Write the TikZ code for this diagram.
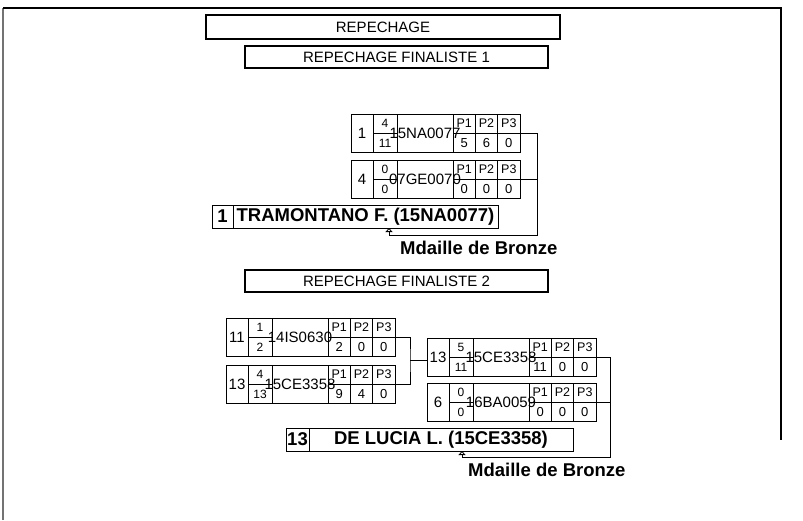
\documentclass[tikz,border=0pt]{standalone}
\usepackage{fontspec}
\setmainfont{Liberation Sans}
\usetikzlibrary{arrows.meta}

% one line of a match: seed, score, code, three periods
\newcommand{\entrybox}[8]{%
  \node [seedcell, anchor=north west] (#1s) at (#1) {#2};
  \node [scorecell, anchor=north west] (#1a) at (#1s.north east) {#3};
  \node [scorecell, anchor=north west] (#1b) at (#1a.south west) {#4};
  \node [namecell, anchor=north west] (#1n) at (#1a.north east) {};
  \node [codetext] (#1c) at (#1n.center) {#5};
  \node [pcell, anchor=north west] (#1t1) at (#1n.north east) {P1};
  \node [pcell, anchor=north west] (#1t2) at (#1t1.north east) {P2};
  \node [pcell, anchor=north west] (#1t3) at (#1t2.north east) {P3};
  \node [pcell, valfont, anchor=north west] (#1v1) at (#1t1.south west) {#6};
  \node [pcell, valfont, anchor=north west] (#1v2) at (#1t2.south west) {#7};
  \node [pcell, valfont, anchor=north west] (#1v3) at (#1t3.south west) {#8};
}

\begin{document}
\begin{tikzpicture}[x=1pt, y=-1pt]
\tikzstyle{cell} = [
  draw = black, line width=0.8pt,
  inner sep=0pt, outer sep=0pt
]
\tikzstyle{seedcell} = [cell, minimum width=22pt, minimum height=38.5pt,
  font=\fontsize{15}{15}\selectfont]
\tikzstyle{scorecell} = [cell, minimum width=24pt, minimum height=19.25pt,
  font=\fontsize{12}{12}\selectfont]
\tikzstyle{namecell} = [cell, minimum width=56pt, minimum height=38.5pt]
\tikzstyle{codetext} = [inner sep=0pt, font=\fontsize{15}{15}\selectfont]
\tikzstyle{pcell} = [cell, minimum width=22.33pt, minimum height=19.25pt,
  font=\fontsize{12.5}{12.5}\selectfont]
\tikzstyle{valfont} = [font=\fontsize{13}{13}\selectfont]
\tikzstyle{headbox} = [
  draw = black, line width=1.8pt, inner sep=0pt,
  font=\fontsize{15}{15}\selectfont
]
\tikzstyle{wincell} = [cell, minimum height=23pt,
  font=\bfseries\fontsize{18.5}{18.5}\selectfont]
\tikzstyle{bronze} = [inner sep=0pt, font=\bfseries\fontsize{18.5}{18.5}\selectfont]
\tikzstyle{tedge} = [
  draw = black, line width=0.8pt
]
\tikzstyle{medal} = [tedge, -{Triangle[open, length=4pt, width=7pt]}]

\useasboundingbox (0,0) rectangle (803,520);

% page frame
\draw [black!55, line width=2pt] (3,520) -- (3,8);
\draw [black, line width=1.6pt] (3,8) -- (781,8) -- (781,440);

\node [headbox, minimum width=354pt, minimum height=24pt] (h0) at (383,27) {REPECHAGE};
\node [headbox, minimum width=303pt, minimum height=22pt] (h1) at (396.5,57) {REPECHAGE FINALISTE 1};
\node [headbox, minimum width=303pt, minimum height=22pt] (h2) at (396.5,281) {REPECHAGE FINALISTE 2};

% finalist 1
\coordinate (m1) at (351,114);
\coordinate (m2) at (351,160);
\entrybox{m1}{1}{4}{11}{15NA0077}{5}{6}{0}
\entrybox{m2}{4}{0}{0}{07GE0070}{0}{0}{0}

\node [wincell, minimum width=21pt, anchor=north west] (w1s) at (212,205) {1};
\node [wincell, minimum width=265pt, anchor=north west] (w1n) at (w1s.north east) {TRAMONTANO F. (15NA0077)};
\coordinate (w1a) at ([xshift=23.5pt]w1n.south);
\coordinate (k1) at (537,235);
\node [bronze, anchor=west] (l1) at (400,248) {Mdaille de Bronze};

\draw [medal] (m1t3.south east) -| (k1) -| (w1a);
\draw [tedge] (m2t3.south east) -- (m2t3.south east -| k1);

% finalist 2
\coordinate (m3) at (226,318);
\coordinate (m4) at (226,365);
\coordinate (m5) at (427,338);
\coordinate (m6) at (427,383);
\entrybox{m3}{11}{1}{2}{14IS0630}{2}{0}{0}
\entrybox{m4}{13}{4}{13}{15CE3358}{9}{4}{0}
\entrybox{m5}{13}{5}{11}{15CE3358}{11}{0}{0}
\entrybox{m6}{6}{0}{0}{16BA0059}{0}{0}{0}

\node [wincell, minimum width=23pt, anchor=north west] (w2s) at (286,428) {13};
\node [wincell, minimum width=264pt, anchor=north west] (w2n) at (w2s.north east) {DE LUCIA L. (15CE3358)};
\coordinate (w2a) at ([xshift=21pt]w2n.south);
\coordinate (k3) at (410,360);
\coordinate (k4) at (610,457);
\node [bronze, anchor=west] (l2) at (468,470) {Mdaille de Bronze};

\draw [tedge] (m3t3.south east) -| (k3) |- (m4t3.south east);
\draw [tedge] (k3) -- (k3 -| m5s.west);
\draw [medal] (m5t3.south east) -| (k4) -| (w2a);
\draw [tedge] (m6t3.south east) -- (m6t3.south east -| k4);

\end{tikzpicture}
\end{document}
